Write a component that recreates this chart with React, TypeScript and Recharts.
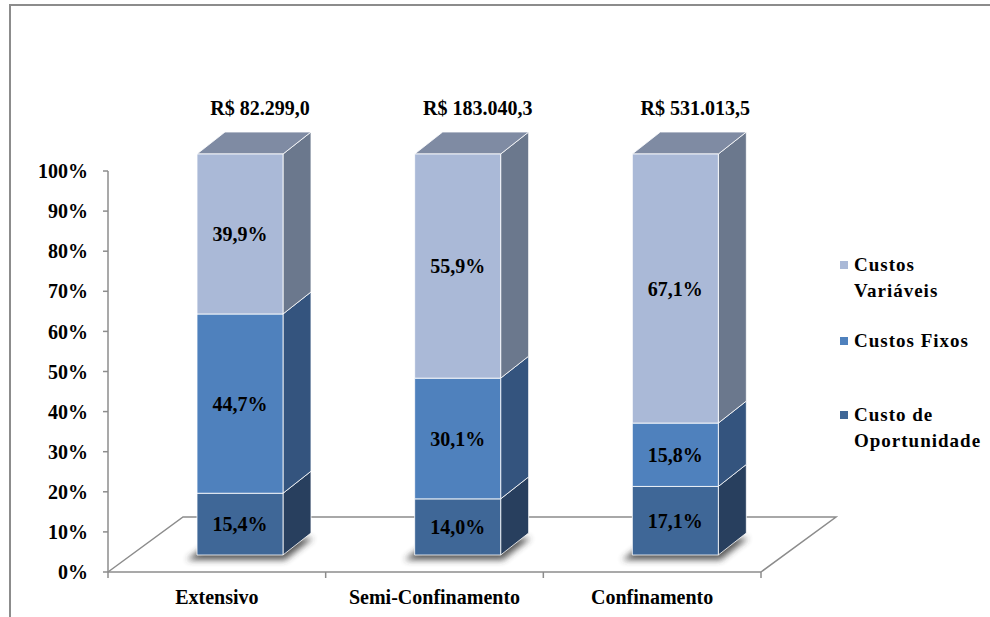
import React from 'react';
import { BarChart, Bar, XAxis, YAxis, LabelList, Legend, ReferenceLine } from 'recharts';

// ---- data ----
const categories = ['Extensivo', 'Semi-Confinamento', 'Confinamento'];
const custoOportunidade = [15.4, 14.0, 17.1];
const custosFixos = [44.7, 30.1, 15.8];
const custosVariaveis = [39.9, 55.9, 67.1];
const totals = [82299.0, 183040.3, 531013.5];
const yTicks = [0, 10, 20, 30, 40, 50, 60, 70, 80, 90, 100];
const seriesNames = ['Custo de Oportunidade', 'Custos Fixos', 'Custos Variáveis'];

const data = categories.map((c, i) => ({
  name: c,
  op: custoOportunidade[i],
  fx: custosFixos[i],
  va: custosVariaveis[i],
  total: totals[i],
}));

// ---- style ----
const FONT = '"Liberation Serif", "Times New Roman", Times, serif';
const SHIFT_X = 23;
const SHIFT_Y = -17;
const DEPTH_X = 28;
const DEPTH_Y = -22;
const FLOOR_X = 75;
const FLOOR_Y = -55;
const GRAY = '#8c8c8c';

const colors = {
  op: { front: '#3F6797', side: '#283F5E', top: '#34557F' },
  fx: { front: '#4F81BD', side: '#34547E', top: '#416C9E' },
  va: { front: '#AAB9D7', side: '#6B788D', top: '#7F8BA3' },
};

const pct = (v: number) => v.toFixed(1).replace('.', ',') + '%';
const money = (v: number) => {
  const [int, dec] = v.toFixed(1).split('.');
  return 'R$ ' + int.replace(/\B(?=(\d{3})+(?!\d))/g, '.') + ',' + dec;
};

function makeShape(c: { front: string; side: string; top: string }, drawTop: boolean, shadow: boolean) {
  return (props: any) => {
    const { x, y, width: w, height: h } = props;
    if (x == null || w == null || h == null) return <g />;
    const fx = x + SHIFT_X;
    const fy = y + SHIFT_Y;
    const edge = { stroke: '#ffffff', strokeWidth: 1, strokeOpacity: 0.8, strokeLinejoin: 'round' as const };
    const side = `${fx + w},${fy} ${fx + w + DEPTH_X},${fy + DEPTH_Y} ${fx + w + DEPTH_X},${fy + h + DEPTH_Y} ${fx + w},${fy + h}`;
    const top = `${fx},${fy} ${fx + DEPTH_X},${fy + DEPTH_Y} ${fx + w + DEPTH_X},${fy + DEPTH_Y} ${fx + w},${fy}`;
    const b = fy + h;
    const sh = `${fx - 10},${b + 5} ${fx + w + 2},${b + 5} ${fx + w + DEPTH_X + 2},${b + DEPTH_Y + 5} ${fx + DEPTH_X - 10},${b + DEPTH_Y + 5}`;
    return (
      <g>
        {shadow && <polygon points={sh} fill="#333333" opacity={0.8} filter="url(#barShadow)" />}
        <polygon points={side} fill={c.side} {...edge} />
        {drawTop && <polygon points={top} fill={c.top} {...edge} />}
        <rect x={fx} y={fy} width={w} height={h} fill={c.front} {...edge} />
      </g>
    );
  };
}

const FloorShape = (props: any) => {
  const { x1, y1, x2 } = props;
  if (x1 == null) return <g />;
  const y = y1;
  const n = categories.length;
  const ticks = Array.from({ length: n + 1 }, (_, i) => x1 + ((x2 - x1) * i) / n);
  return (
    <g>
      <defs>
        <filter id="barShadow" x="-50%" y="-50%" width="200%" height="200%">
          <feGaussianBlur stdDeviation="3" />
        </filter>
      </defs>
      <polyline
        points={`${x1},${y} ${x1 + FLOOR_X},${y + FLOOR_Y} ${x2 + FLOOR_X},${y + FLOOR_Y} ${x2},${y}`}
        fill="none"
        stroke={GRAY}
        strokeWidth={1.5}
      />
      {ticks.map((t, i) => (
        <line key={i} x1={t} y1={y} x2={t} y2={y + 6} stroke={GRAY} strokeWidth={1.5} />
      ))}
    </g>
  );
};

const makeLabel = (fmt: (v: number) => string) => (props: any) => {
  const { x, y, width, height, value } = props;
  if (x == null) return null;
  return (
    <text
      x={x + width / 2 + SHIFT_X}
      y={y + height / 2 + SHIFT_Y}
      textAnchor="middle"
      dominantBaseline="central"
      fontFamily={FONT}
      fontWeight="bold"
      fontSize={20}
      fill="#000"
    >
      {fmt(value)}
    </text>
  );
};

const TotalLabel = (props: any) => {
  const { x, y, width, value } = props;
  if (x == null) return null;
  return (
    <text
      x={x + width / 2 + SHIFT_X + 20}
      y={y + SHIFT_Y - 46}
      textAnchor="middle"
      dominantBaseline="central"
      fontFamily={FONT}
      fontWeight="bold"
      fontSize={20}
      fill="#000"
    >
      {money(value)}
    </text>
  );
};

const legendColors = [colors.op.front, colors.fx.front, colors.va.front];
const legendGaps = [0, 24, 48];

const LegendBox = () => {
  const items = seriesNames.map((n, i) => ({ name: n, color: legendColors[i] })).reverse();
  return (
    <div style={{ fontFamily: FONT, fontWeight: 'bold', fontSize: 19, lineHeight: '26px', letterSpacing: 1, color: '#000', textAlign: 'left' }}>
      {items.map((it, i) => (
        <div key={it.name} style={{ display: 'flex', alignItems: 'flex-start', marginTop: legendGaps[i] }}>
          <span style={{ display: 'inline-block', width: 8, height: 8, background: it.color, marginTop: 9, marginRight: 6, flex: 'none' }} />
          <span style={{ width: 135, fontFamily: FONT }}>{it.name}</span>
        </div>
      ))}
    </div>
  );
};

export default function App() {
  return (
    <div style={{ position: 'absolute', left: 0, top: 0, width: 990, height: 617, background: '#fff', overflow: 'hidden' }}>
      <div
        style={{
          position: 'absolute',
          left: 9,
          top: 4,
          width: 990,
          height: 617,
          borderTop: `2px solid ${GRAY}`,
          borderLeft: `2px solid ${GRAY}`,
        }}
      />
      <BarChart
        width={990}
        height={617}
        data={data}
        margin={{ top: 171, right: 229, bottom: 0, left: 8 }}
        barSize={86}
      >
        <ReferenceLine y={0} shape={FloorShape} zIndex={-10} ifOverflow="visible" />
        <XAxis
          dataKey="name"
          height={45}
          axisLine={{ stroke: GRAY, strokeWidth: 1.5 }}
          tickLine={false}
          tickSize={6}
          tickMargin={12}
          tick={{ fill: '#000', fontSize: 20, fontWeight: 'bold', fontFamily: FONT }}
          interval={0}
        />
        <YAxis
          type="number"
          domain={[0, 100]}
          ticks={yTicks}
          width={100}
          tickFormatter={(v: number) => `${v}%`}
          axisLine={{ stroke: GRAY, strokeWidth: 1.5 }}
          tickLine={{ stroke: GRAY, strokeWidth: 1.5 }}
          tickSize={5}
          tickMargin={15}
          tick={{ fill: '#000', fontSize: 20, fontWeight: 'bold', fontFamily: FONT }}
          interval={0}
        />
        <Bar dataKey="op" name={seriesNames[0]} stackId="a" fill={colors.op.front} shape={makeShape(colors.op, false, true)} isAnimationActive={false}>
          <LabelList dataKey="op" content={makeLabel(pct)} />
        </Bar>
        <Bar dataKey="fx" name={seriesNames[1]} stackId="a" fill={colors.fx.front} shape={makeShape(colors.fx, false, false)} isAnimationActive={false}>
          <LabelList dataKey="fx" content={makeLabel(pct)} />
        </Bar>
        <Bar dataKey="va" name={seriesNames[2]} stackId="a" fill={colors.va.front} shape={makeShape(colors.va, true, false)} isAnimationActive={false}>
          <LabelList dataKey="va" content={makeLabel(pct)} />
          <LabelList dataKey="total" content={TotalLabel} />
        </Bar>
        <Legend
          layout="vertical"
          align="center"
          verticalAlign="middle"
          wrapperStyle={{ left: 840, top: 252, width: 150 }}
          content={() => <LegendBox />}
        />
      </BarChart>
    </div>
  );
}
